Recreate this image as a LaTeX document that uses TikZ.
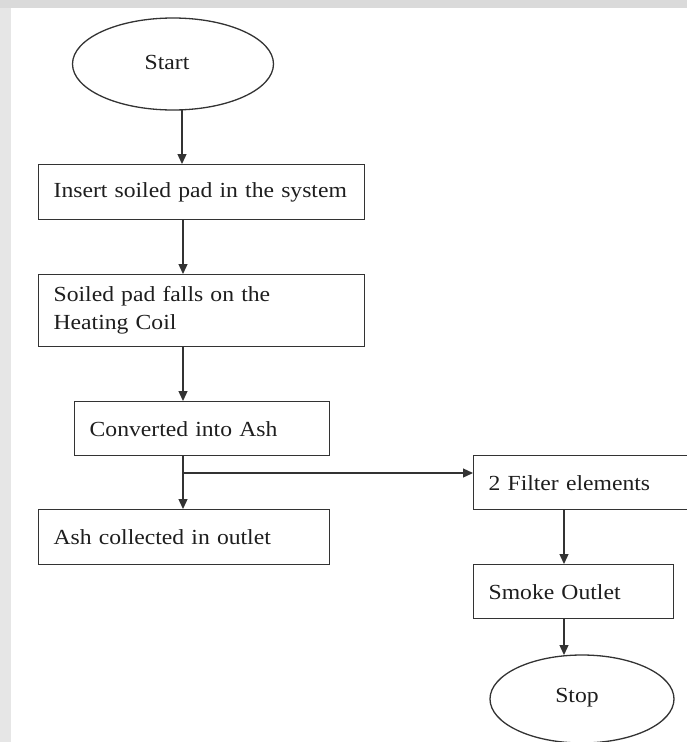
\documentclass[tikz,border=0pt]{standalone}
\usepackage{fontspec}
\setmainfont{Liberation Serif}[FakeStretch=1.1,WordSpace=0.8]
\usetikzlibrary{arrows.meta,shapes.geometric}
\definecolor{edge}{HTML}{333333}
\definecolor{inkc}{HTML}{1E1E1E}
\definecolor{bgstrip}{HTML}{DADADA}
\definecolor{leftstrip}{HTML}{E6E6E6}
\tikzset{
  txtfont/.style={font=\fontsize{21.5}{28}\selectfont, text=inkc},
  procbox/.style={draw=edge, line width=1.3pt, rectangle, anchor=north west,
    inner xsep=15pt, inner ysep=0pt, align=left, txtfont},
  terminal/.style={draw=edge, line width=1.3pt, ellipse, inner sep=0pt},
  flow/.style={draw=edge, line width=1.3pt, -{Triangle[length=10pt,width=9pt]}}
}
\begin{document}
\begin{tikzpicture}[x=1pt,y=-1pt]
  \useasboundingbox (0,0) rectangle (687,742);
  \fill[leftstrip] (0,0) rectangle (687,742);
  \fill[bgstrip] (0,0) rectangle (687,8);
  \fill[white] (11,8) rectangle (687,742);

  % terminals
  \node[terminal, minimum width=201pt, minimum height=92pt] (start) at (173,64) {};
  \node[txtfont] (starttxt) at (167,62) {Start};

  % process boxes (north west anchored)
  \node[procbox, minimum height=55pt, text width=296pt] (insert) at (38,164)
    {Insert soiled pad in the system};
  \node[procbox, minimum height=72pt, text width=296pt] (soiled) at (38,274)
    {Soiled pad falls on the\\Heating Coil};
  \node[procbox, minimum height=54pt, text width=225pt] (convert) at (74,401)
    {Converted into Ash};
  \node[procbox, minimum height=55pt, text width=261pt] (ash) at (38,509)
    {Ash collected in outlet};
  \node[procbox, minimum height=54pt, text width=210pt] (filter) at (473,455)
    {2 Filter elements};
  \node[procbox, minimum height=54pt, text width=170pt] (smoke) at (473,564)
    {Smoke Outlet};

  \node[terminal, minimum width=184pt, minimum height=88pt] (stop) at (582,699) {};
  \node[txtfont] (stoptxt) at (577,698) {Stop};

  % connectors
  \coordinate (c1) at (182,110);
  \coordinate (branch) at (183,473);
  \draw[flow] (c1) -- (182,164);
  \draw[flow] (183,219) -- (183,274);
  \draw[flow] (183,346) -- (183,401);
  \draw[flow] (183,455) -- (183,509);
  \draw[flow] (branch) -- (473,473);
  \draw[flow] (564,509) -- (564,564);
  \draw[flow] (564,618) -- (564,655);
\end{tikzpicture}
\end{document}
